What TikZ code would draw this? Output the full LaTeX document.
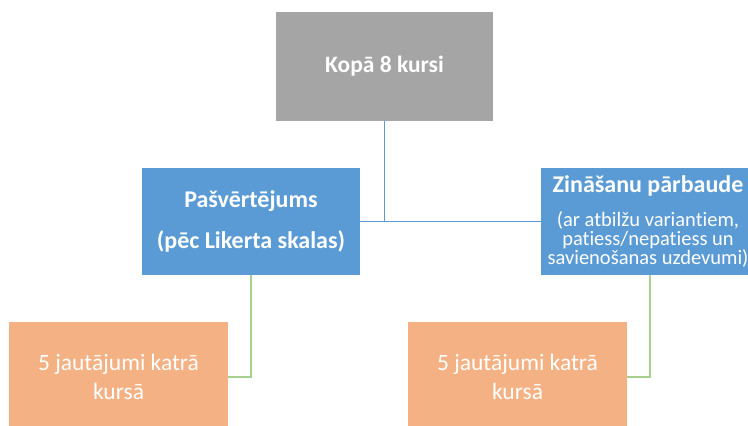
\documentclass[tikz,border=0pt]{standalone}
\usepackage{fontspec}
\setmainfont[Ligatures=NoCommon]{Carlito}
\definecolor{boxgray}{HTML}{A5A5A5}
\definecolor{boxblue}{HTML}{5B9BD5}
\definecolor{boxorange}{HTML}{F4B183}
\definecolor{linegreen}{HTML}{A9D18E}
\tikzset{
  box/.style={rectangle, inner sep=0pt, text=white, align=center},
  blueline/.style={draw=boxblue, line width=1pt},
  greenline/.style={draw=linegreen, line width=1.5pt},
}
\begin{document}
\begin{tikzpicture}[x=1pt,y=-1pt]
\useasboundingbox (0,0) rectangle (748,426);
\clip (0,0) rectangle (748,426);
\fill[white] (0,0) rectangle (748,426);
\node[box, fill=boxgray, minimum width=217pt, minimum height=109pt,
  font=\fontsize{23.5}{28}\selectfont\bfseries] (top) at (384.5,66.5) {Kopā 8 kursi};
\node[box, fill=boxblue, minimum width=218pt, minimum height=107pt,
  font=\fontsize{24}{41}\selectfont\bfseries] (lb) at (251,221.5) {Pašvērtējums\\(pēc Likerta skalas)};
\node[box, fill=boxblue, minimum width=214pt, minimum height=107pt,
  font=\fontsize{20.5}{19}\selectfont] (rb) at (648,221.5)
  {{\fontsize{24}{28}\selectfont\bfseries Zināšanu pārbaude}\\[15pt]
   (ar atbilžu variantiem,\\patiess/nepatiess un\\savienošanas uzdevumi)};
\node[box, fill=boxorange, minimum width=219pt, minimum height=110pt,
  font=\fontsize{23.5}{29}\selectfont] (lo) at (118.5,377) {5 jautājumi katrā\\kursā};
\node[box, fill=boxorange, minimum width=219pt, minimum height=110pt,
  font=\fontsize{23.5}{29}\selectfont] (ro) at (517.5,377) {5 jautājumi katrā\\kursā};
\draw[blueline] (top.south) -- (top.south |- lb.east);
\draw[blueline] (lb.east) -- (rb.west);
\draw[greenline] (lb.south) |- (lo.east);
\draw[greenline] ([xshift=2pt]rb.south) |- (ro.east);
\end{tikzpicture}
\end{document}
